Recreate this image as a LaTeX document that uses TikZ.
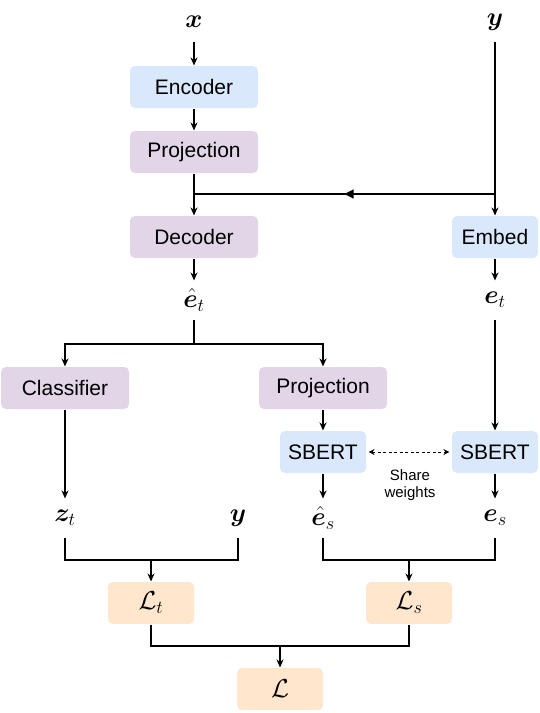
\RequirePackage{fix-cm}
\documentclass[tikz,border=0pt]{standalone}
\usepackage{amsmath,amssymb,bm}
\usepackage{fontspec}
\setmainfont{Liberation Sans}
\usepackage{tikz}
\definecolor{encBlue}{HTML}{DAE8FC}
\definecolor{projPurple}{HTML}{E1D5E7}
\definecolor{lossOrange}{HTML}{FFE6CC}
\usetikzlibrary{arrows.meta, positioning, calc, decorations.markings}
\tikzstyle{block} = [rectangle, rounded corners=5pt, minimum height=42pt, minimum width=128pt, inner sep=0pt, font=\fontsize{21}{25}\selectfont]
\tikzstyle{blueblock} = [block, fill=encBlue]
\tikzstyle{purpleblock} = [block, fill=projPurple]
\tikzstyle{lossblock} = [block, fill=lossOrange, minimum width=86pt, font=\fontsize{26}{30}\selectfont]
\tikzstyle{var} = [minimum height=38pt, inner sep=0pt, font=\fontsize{26}{30}\selectfont]
\tikzstyle{midarrow} = [postaction={decorate}, decoration={markings, mark=at position 0.5 with {\arrow{Triangle[length=9pt,width=9pt]}}}]

\begin{document}
\begin{tikzpicture}[x=1pt, y=1pt, >={Stealth[length=8pt,width=7pt]}, line width=1.1pt]
        \useasboundingbox (0,0) rectangle (540,-713);
        % Encoder side
        \node [blueblock] (encoder) at (194,-87) {Encoder};
        \node [var, above of=encoder, node distance=65pt] (xin) {$\bm{x}$};
        \node [purpleblock, below of=encoder, node distance=65pt] (proj) {Projection};
        \node [purpleblock, below of=proj, node distance=85pt] (decoder) {Decoder};
        \node [var, below of=decoder, node distance=63pt] (etHat) {$\hat{\bm{e}}_t$};
        % Target side
        \node [blueblock, minimum width=86pt, right of=decoder, node distance=301pt] (embed) {Embed};
        \node [var, above of=embed, node distance=215pt] (yin) {$\bm{y}$};
        \node [var, below of=embed, node distance=63pt] (et) {$\bm{e}_t$};
        % Heads
        \node [purpleblock] (classifier) at (65,-388) {Classifier};
        \node [purpleblock, right of=classifier, node distance=258pt] (proj2) {Projection};
        \node [blueblock, minimum width=86pt, below of=proj2, node distance=64pt] (sbert) {SBERT};
        \node [blueblock, minimum width=86pt, below of=et, node distance=152pt] (sbert2) {SBERT};
        \node [align=center, font=\fontsize{15}{17}\selectfont] (share) at (410,-485) {Share\\weights};
        \node [var, below of=classifier, node distance=130pt] (zt) {$\bm{z}_t$};
        \node [var, right of=zt, node distance=173pt] (yout) {$\bm{y}$};
        \node [var, below of=sbert, node distance=66pt] (esHat) {$\hat{\bm{e}}_s$};
        \node [var, below of=sbert2, node distance=66pt] (es) {$\bm{e}_s$};
        % Losses
        \node [lossblock] (lossT) at (151,-603) {$\mathcal{L}_t$};
        \node [lossblock, right of=lossT, node distance=258pt] (lossS) {$\mathcal{L}_s$};
        \node [lossblock] (loss) at (280,-689) {$\mathcal{L}$};

        \coordinate (join) at (194,-194);
        \coordinate (ybranch) at (495,-194);
        \coordinate (split) at (194,-344);
        \coordinate (tjoin) at (151,-560);
        \coordinate (sjoin) at (409,-560);
        \coordinate (ljoin) at (280,-646);

        % Connections
        \draw [->] (xin) -- (encoder);
        \draw [->] (encoder) -- (proj);
        \draw [->] (proj) -- (decoder);
        \draw [->] (yin) -- (embed);
        \draw [midarrow] (ybranch) -- (join);
        \draw [->] (decoder) -- (etHat);
        \draw [->] (embed) -- (et);
        \draw (etHat) -- (split);
        \draw [->] (split) -| (classifier);
        \draw [->] (split) -| (proj2);
        \draw [->] (proj2) -- (sbert);
        \draw [->] (et) -- (sbert2);
        \draw [<->, dashed, line width=0.9pt, dash pattern=on 3pt off 2.5pt, shorten <=2pt, shorten >=2pt, >={Stealth[length=6pt,width=6pt]}] (sbert) -- (sbert2);
        \draw [->] (sbert) -- (esHat);
        \draw [->] (sbert2) -- (es);
        \draw [->] (classifier) -- (zt);
        \draw (zt) |- (tjoin) -| (yout);
        \draw [->] (tjoin) -- (lossT);
        \draw (esHat) |- (sjoin) -| (es);
        \draw [->] (sjoin) -- (lossS);
        \draw (lossT) |- (ljoin) -| (lossS);
        \draw [->] (ljoin) -- (loss);
    \end{tikzpicture}
\end{document}
